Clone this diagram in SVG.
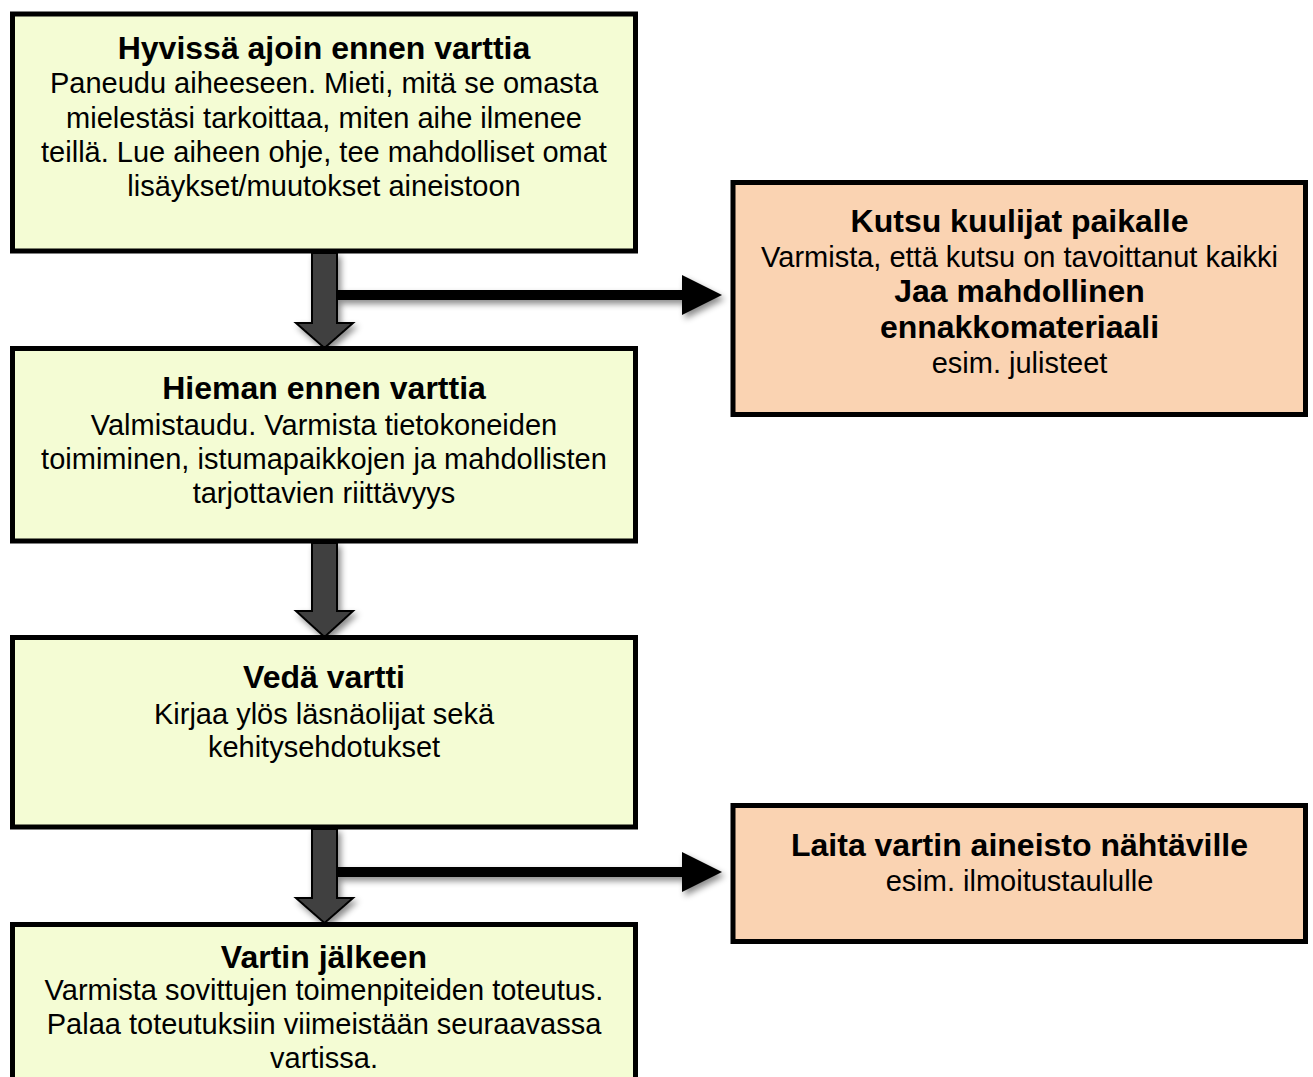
<svg xmlns="http://www.w3.org/2000/svg" width="1313" height="1077" viewBox="0 0 1313 1077">
<defs>
<style>
.g{fill:#F4FCD4;stroke:#000;stroke-width:5}
.o{fill:#FAD3B2;stroke:#000;stroke-width:5}
text{font-family:"Liberation Sans",Arial,sans-serif;fill:#000;text-anchor:middle}
.t{font-size:32px;font-weight:bold}
.b{font-size:29px}
.va{fill:#404040;stroke:#000;stroke-width:2;stroke-linejoin:miter}
.ha{stroke:#000;stroke-width:10;fill:none}
.hh{fill:#000}
</style>
<filter id="sh" x="-20%" y="-20%" width="160%" height="160%">
<feDropShadow dx="3" dy="4" stdDeviation="3" flood-color="#000" flood-opacity="0.45"/>
</filter>
</defs>
<rect width="1313" height="1077" fill="#fff"/>
<g id="connectors" filter="url(#sh)">
<line class="ha" x1="336" y1="295" x2="684" y2="295"/>
<polygon class="hh" points="682,275 722,295 682,315"/>
<polygon class="va" points="312,253 337,253 337,323 353,323 324.5,348 296,323 312,323"/>
<polygon class="va" points="312,543 337,543 337,611 353,611 324.5,637 296,611 312,611"/>
<line class="ha" x1="336" y1="872" x2="684" y2="872"/>
<polygon class="hh" points="682,852 722,872 682,892"/>
<polygon class="va" points="312,829 337,829 337,898 353,898 324.5,923 296,898 312,898"/>
</g>
<g id="n1">
<rect class="g" x="12.5" y="14" width="623" height="237"/>
<text class="t" x="324" y="59">Hyvissä ajoin ennen varttia</text>
<text class="b" x="324" y="93">Paneudu aiheeseen. Mieti, mitä se omasta</text>
<text class="b" x="324" y="127.5">mielestäsi tarkoittaa, miten aihe ilmenee</text>
<text class="b" x="324" y="162">teillä. Lue aiheen ohje, tee mahdolliset omat</text>
<text class="b" x="324" y="196">lisäykset/muutokset aineistoon</text>
</g>
<g id="n2">
<rect class="g" x="12.5" y="348.5" width="623" height="192.5"/>
<text class="t" x="324" y="399">Hieman ennen varttia</text>
<text class="b" x="324" y="435">Valmistaudu. Varmista tietokoneiden</text>
<text class="b" x="324" y="469">toimiminen, istumapaikkojen ja mahdollisten</text>
<text class="b" x="324" y="503">tarjottavien riittävyys</text>
</g>
<g id="n3">
<rect class="g" x="12.5" y="637.5" width="623" height="189.5"/>
<text class="t" x="324" y="688">Vedä vartti</text>
<text class="b" x="324" y="724">Kirjaa ylös läsnäolijat sekä</text>
<text class="b" x="324" y="757">kehitysehdotukset</text>
</g>
<g id="n4">
<rect class="g" x="12.5" y="924.5" width="623" height="200"/>
<text class="t" x="324" y="968">Vartin jälkeen</text>
<text class="b" x="324" y="1000">Varmista sovittujen toimenpiteiden toteutus.</text>
<text class="b" x="324" y="1034">Palaa toteutuksiin viimeistään seuraavassa</text>
<text class="b" x="324" y="1068">vartissa.</text>
</g>
<g id="n5">
<rect class="o" x="733" y="182.5" width="572.5" height="232"/>
<text class="t" x="1019.5" y="232">Kutsu kuulijat paikalle</text>
<text class="b" x="1019.5" y="267">Varmista, että kutsu on tavoittanut kaikki</text>
<text class="t" x="1019.5" y="302">Jaa mahdollinen</text>
<text class="t" x="1019.5" y="338">ennakkomateriaali</text>
<text class="b" x="1019.5" y="373">esim. julisteet</text>
</g>
<g id="n6">
<rect class="o" x="733" y="805.5" width="572.5" height="136"/>
<text class="t" x="1019.5" y="856">Laita vartin aineisto nähtäville</text>
<text class="b" x="1019.5" y="891">esim. ilmoitustaululle</text>
</g>
</svg>
